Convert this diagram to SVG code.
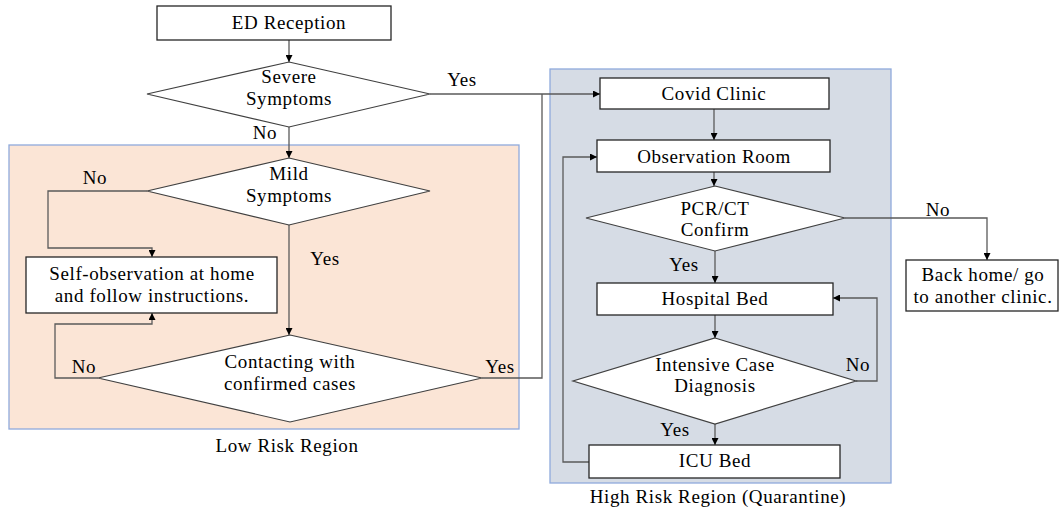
<svg xmlns="http://www.w3.org/2000/svg" width="1059" height="511" viewBox="0 0 1059 511">
<style>
text{font-family:'Liberation Serif',serif;font-size:19px;fill:#000;text-anchor:middle;letter-spacing:0.6px}
.box{fill:#fff;stroke:#262626;stroke-width:1.3}
.dia{fill:#fff;stroke:#404040;stroke-width:1.2}
.con{fill:none;stroke:#5a5a5a;stroke-width:1.3}
.region{stroke:#8FAADC;stroke-width:1.3}
</style>
<defs>
<marker id="ah" viewBox="0 0 10 10" refX="10" refY="5" markerWidth="7" markerHeight="7" markerUnits="userSpaceOnUse" orient="auto">
<path d="M0,0 L10,5 L0,10 z" fill="#000"/>
</marker>
</defs>
<rect width="1059" height="511" fill="#fff"/>
<g id="low-risk-region">
<rect class="region" x="9" y="145" width="510" height="284" fill="#FBE5D6"/>
<text x="287" y="452">Low Risk Region</text>
</g>
<g id="high-risk-region">
<rect class="region" x="550" y="69" width="341" height="414" fill="#D6DCE5"/>
<text x="718" y="503">High Risk Region (Quarantine)</text>
</g>
<g id="connectors">
<path class="con" d="M289,40 V62" marker-end="url(#ah)"/>
<path class="con" d="M289,127 V158" marker-end="url(#ah)"/>
<path class="con" d="M430,94 H600" marker-end="url(#ah)"/>
<path class="con" d="M147,191 H48 V248 H152 V257" marker-end="url(#ah)"/>
<path class="con" d="M289,225 V335" marker-end="url(#ah)"/>
<path class="con" d="M98,378 H55 V324 H152 V313" marker-end="url(#ah)"/>
<path class="con" d="M482,378 H542 V94"/>
<path class="con" d="M714,109 V140" marker-end="url(#ah)"/>
<path class="con" d="M714,172 V186" marker-end="url(#ah)"/>
<path class="con" d="M845,218 H987 V260" marker-end="url(#ah)"/>
<path class="con" d="M715,251 V283" marker-end="url(#ah)"/>
<path class="con" d="M715,315 V338" marker-end="url(#ah)"/>
<path class="con" d="M856,381 H877 V298 H833" marker-end="url(#ah)"/>
<path class="con" d="M715,424 V445" marker-end="url(#ah)"/>
<path class="con" d="M589,462 H563 V157 H597" marker-end="url(#ah)"/>
<text x="462" y="86">Yes</text>
<text x="265" y="139">No</text>
<text x="95" y="184">No</text>
<text x="325" y="265">Yes</text>
<text x="84" y="373">No</text>
<text x="500" y="373">Yes</text>
<text x="938" y="216">No</text>
<text x="684" y="271">Yes</text>
<text x="858" y="371">No</text>
<text x="675" y="436">Yes</text>
</g>
<g id="ed-reception">
<rect class="box" x="157" y="6" width="234" height="34"/>
<text x="289" y="29">ED Reception</text>
</g>
<g id="severe-symptoms">
<polygon class="dia" points="289,62 430,94 289,127 147,94"/>
<text x="289" y="83">Severe</text>
<text x="289" y="105">Symptoms</text>
</g>
<g id="mild-symptoms">
<polygon class="dia" points="289,158 430,191 289,225 147,191"/>
<text x="289" y="180">Mild</text>
<text x="289" y="202">Symptoms</text>
</g>
<g id="self-observation">
<rect class="box" x="26" y="257" width="251" height="56"/>
<text x="152" y="280">Self-observation at home</text>
<text x="152" y="302">and follow instructions.</text>
</g>
<g id="contacting">
<polygon class="dia" points="290,335 482,378 290,422 98,378"/>
<text x="290" y="368">Contacting with</text>
<text x="290" y="390">confirmed cases</text>
</g>
<g id="covid-clinic">
<rect class="box" x="600" y="78" width="229" height="31"/>
<text x="714" y="100">Covid Clinic</text>
</g>
<g id="observation-room">
<rect class="box" x="597" y="140" width="233" height="32"/>
<text x="714" y="163">Observation Room</text>
</g>
<g id="pcr-ct">
<polygon class="dia" points="715,186 845,218 715,251 586,218"/>
<text x="715" y="215">PCR/CT</text>
<text x="715" y="236">Confirm</text>
</g>
<g id="back-home">
<rect class="box" x="906" y="260" width="152" height="51"/>
<text x="983" y="281">Back home/ go</text>
<text x="983" y="303">to another clinic.</text>
</g>
<g id="hospital-bed">
<rect class="box" x="597" y="283" width="236" height="32"/>
<text x="715" y="305">Hospital Bed</text>
</g>
<g id="intensive-case">
<polygon class="dia" points="715,338 856,381 715,424 573,381"/>
<text x="715" y="371">Intensive Case</text>
<text x="715" y="392">Diagnosis</text>
</g>
<g id="icu-bed">
<rect class="box" x="589" y="445" width="251" height="33"/>
<text x="715" y="467">ICU Bed</text>
</g>
</svg>
